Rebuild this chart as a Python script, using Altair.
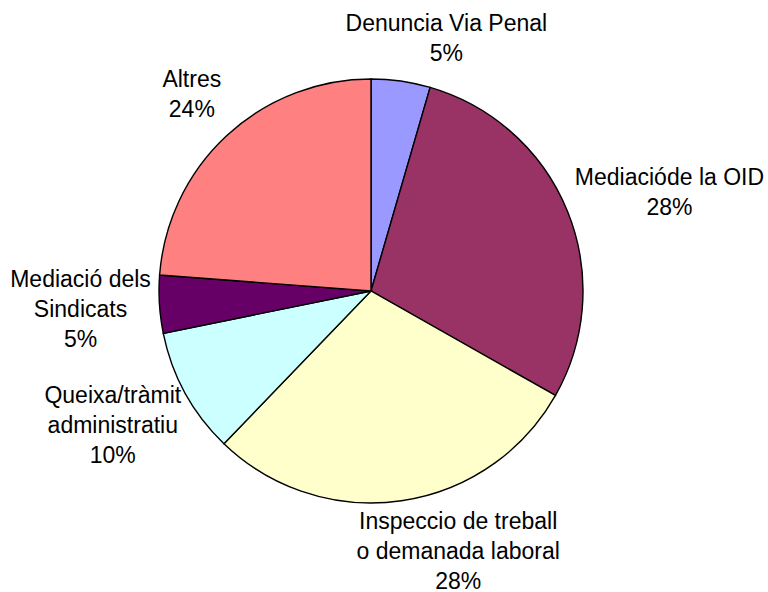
import altair as alt
import pandas as pd

categories = [
    "Denuncia Via Penal",
    "Mediacióde la OID",
    "Inspeccio de treball\no demanada laboral",
    "Queixa/tràmit\nadministratiu",
    "Mediació dels\nSindicats",
    "Altres",
]
shares = [4.5, 28.7, 29.0, 9.6, 4.4, 23.8]
pct_labels = ["5%", "28%", "28%", "10%", "5%", "24%"]
colors = ["#9999FF", "#993366", "#FFFFCC", "#CCFFFF", "#660066", "#FF8080"]

df = pd.DataFrame({
    "cat": categories,
    "share": shares,
    "pct": pct_labels,
    "order": list(range(len(categories))),
})
df["label"] = df["cat"] + "\n" + df["pct"]

base = alt.Chart(df).encode(
    theta=alt.Theta("share:Q", stack=True),
    order=alt.Order("order:Q"),
)

pie = base.mark_arc(outerRadius=212, stroke="black", strokeWidth=1.4).encode(
    color=alt.Color("cat:N", scale=alt.Scale(domain=categories, range=colors), legend=None)
)

# label offsets (dx, dy) per slice, relative to radius 265 at the slice mid-angle
offsets = [(38, -5), (53, -13), (49, -31), (-26, -23), (-26, -28), (1, -17)]

layers = [pie]
for i, (dx, dy) in enumerate(offsets):
    layers.append(
        base.mark_text(
            radius=265, dx=dx, dy=dy, lineBreak="\n", fontSize=23,
            font="Liberation Sans", lineHeight=30, align="center",
            baseline="middle", color="black",
        ).encode(
            text=alt.condition(alt.datum.order == i, "label:N", alt.value(""))
        )
    )

chart = alt.layer(*layers).properties(
    width=742, height=582,
    padding={"left": 0, "top": 0, "right": 26, "bottom": 10},
    autosize=alt.AutoSizeParams(type="none"),
).configure_view(stroke=None)

chart.save("out.html", embed_options={"renderer": "svg", "actions": False})
